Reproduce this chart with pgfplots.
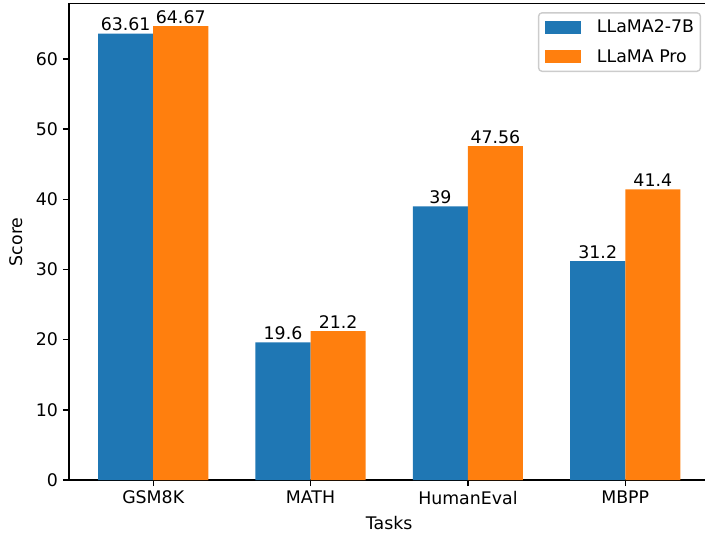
\documentclass[border=0pt]{standalone}
\usepackage{fontspec}
\setmainfont{DejaVu Sans}
\usepackage{pgfplots}
\pgfplotsset{compat=1.18}
\definecolor{mplblue}{HTML}{1F77B4}
\definecolor{mplorange}{HTML}{FF7F0E}
\newcommand{\mfont}{\fontsize{12.5}{15}\selectfont}
\begin{document}
\begin{tikzpicture}
\begin{axis}[
  scale only axis,
  width=461.1pt, height=343.1pt,
  xmin=-0.535, xmax=3.535,
  ymin=0, ymax=67.9,
  axis x line*=box, axis y line*=left,
  xtick={0,1,2,3},
  xticklabels={GSM8K,MATH,HumanEval,MBPP},
  ytick={0,10,20,30,40,50,60},
  yticklabels={0,10,20,30,40,50,60},
  tick align=outside,
  xtick pos=bottom,
  major tick length=4.4pt,
  every tick/.style={black, line width=1pt},
  axis line style={line width=1pt},
  tick label style={font=\mfont},
  xlabel={Tasks}, ylabel={Score},
  label style={font=\mfont},
  xlabel style={yshift=-2pt},
  ylabel style={yshift=2.5pt},
  ybar, bar width=0.35,
  nodes near coords={\pgfplotspointmeta},
  point meta=explicit symbolic,
  every node near coord/.append style={font=\mfont, anchor=south, inner sep=0pt, yshift=1.8pt, black},
  legend cell align=left,
  legend image code/.code={\fill[#1, sharp corners] (0pt,-4.6pt) rectangle (25.9pt,4.6pt);},
  legend style={at={(1,1)}, anchor=north east, xshift=-6pt, yshift=-6.25pt,
    draw=black!20, line width=1pt, rounded corners=2.5pt, font=\mfont,
    inner xsep=4.6pt, inner ysep=5.2pt, row sep=10.3pt,
    nodes={inner sep=0pt},
    /tikz/every odd column/.append style={column sep=11.5pt},
    /tikz/every even column/.append style={column sep=0pt}},
]
\addplot[fill=mplblue, draw=none, bar shift=-0.175] coordinates {
  (0,63.61) [63.61]
  (1,19.6) [19.6]
  (2,39) [39]
  (3,31.2) [31.2]
};
\addlegendentry{LLaMA2-7B}
\addplot[fill=mplorange, draw=none, bar shift=0.175] coordinates {
  (0,64.67) [64.67]
  (1,21.2) [21.2]
  (2,47.56) [47.56]
  (3,41.4) [41.4]
};
\addlegendentry{LLaMA Pro}
\end{axis}
\pgfresetboundingbox
\path ([shift={(-49.7pt,-39.6pt)}]current axis.south west) rectangle ([shift={(-3.2pt,2.5pt)}]current axis.north east);
\end{tikzpicture}
\end{document}
